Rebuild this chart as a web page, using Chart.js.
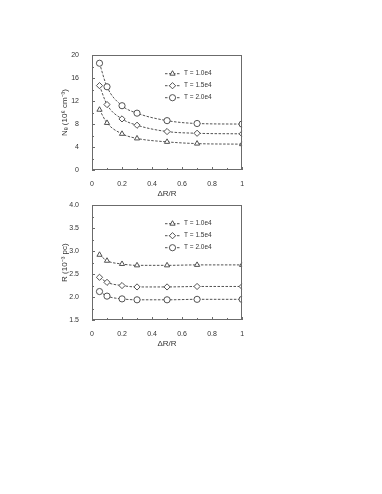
<!DOCTYPE html>
<html>
<head>
<meta charset="utf-8">
<script src="https://cdn.jsdelivr.net/npm/chart.js@4/dist/chart.umd.min.js"></script>
<style>
  body { margin: 0; background: #fff; width: 382px; height: 494px; position: relative; }
  .box { position: absolute; }
  #boxTop { left: 60px; top: 46px; width: 187px; height: 153px; }
  #boxBottom { left: 60px; top: 196px; width: 187px; height: 153px; }
</style>
</head>
<body>
<div class="box" id="boxTop"><canvas id="densityChart"></canvas></div>
<div class="box" id="boxBottom"><canvas id="radiusChart"></canvas></div>
<script>
// x values (ΔR/R)
const shellRatio = [0.05, 0.1, 0.2, 0.3, 0.5, 0.7, 1.0];
const seriesLabels = ['T = 1.0e4', 'T = 1.5e4', 'T = 2.0e4'];

// electron density, 10^6 cm^-3
const densityT10 = [10.5, 8.2, 6.3, 5.5, 4.9, 4.6, 4.5];
const densityT15 = [14.7, 11.4, 8.9, 7.8, 6.7, 6.4, 6.3];
const densityT20 = [18.6, 14.5, 11.2, 9.9, 8.6, 8.1, 8.0];

// radius, 10^-3 pc
const radiusT10 = [2.92, 2.79, 2.72, 2.69, 2.69, 2.70, 2.70];
const radiusT15 = [2.43, 2.32, 2.25, 2.22, 2.22, 2.23, 2.23];
const radiusT20 = [2.12, 2.02, 1.96, 1.94, 1.94, 1.95, 1.95];

const xTicks = [0, 0.2, 0.4, 0.6, 0.8, 1];
const markers = ['triangle', 'rectRot', 'circle'];
const ink = '#404040';
const axisColor = '#6b6b6b';
const fontFamily = "'Liberation Sans', Arial, sans-serif";

/**
 * Frame, inward tick marks and an in-plot legend (dashed line + marker)
 */
const frameLegendPlugin = {
  id: 'frameLegend',
  afterDraw(chart) {
    const { ctx, chartArea, scales } = chart;
    ctx.save();
    ctx.strokeStyle = axisColor;
    ctx.lineWidth = 1;
    ctx.strokeRect(Math.round(chartArea.left) + 0.5, Math.round(chartArea.top) + 0.5,
      Math.round(chartArea.right - chartArea.left) - 1, Math.round(chartArea.bottom - chartArea.top) - 1);

    // inward ticks: major + minor
    const xs = scales.x;
    const ys = scales.y;
    ctx.beginPath();
    for (let v = 0; v <= 1.0001; v += 0.1) {
      const px = Math.round(xs.getPixelForValue(v)) + 0.5;
      const major = Math.abs(v * 5 - Math.round(v * 5)) < 1e-6;
      ctx.moveTo(px, chartArea.bottom);
      ctx.lineTo(px, chartArea.bottom - (major ? 3 : 2));
    }
    const step = chart.options.scales.y.ticks.stepSize;
    const yMin = chart.options.scales.y.min;
    const yMax = chart.options.scales.y.max;
    for (let v = yMin; v <= yMax + 1e-6; v += step / 2) {
      const py = Math.round(ys.getPixelForValue(v)) + 0.5;
      const major = Math.abs((v - yMin) / step - Math.round((v - yMin) / step)) < 1e-6;
      ctx.moveTo(chartArea.left, py);
      ctx.lineTo(chartArea.left + (major ? 3 : 2), py);
    }
    ctx.stroke();

    const x0 = chartArea.left + 73;
    let y = chartArea.top + 18.5;
    chart.data.datasets.forEach((ds) => {
      ctx.strokeStyle = ink;
      ctx.lineWidth = 0.9;
      ctx.setLineDash([2.5, 1.5]);
      ctx.beginPath();
      ctx.moveTo(x0, y);
      ctx.lineTo(x0 + 15, y);
      ctx.stroke();
      ctx.setLineDash([]);
      ctx.fillStyle = '#ffffff';
      ctx.strokeStyle = ink;
      Chart.helpers.drawPoint(ctx, {
        pointStyle: ds.pointStyle,
        radius: ds.pointRadius,
        borderWidth: 0.9,
        rotation: 0,
      }, x0 + 7.5, y);
      ctx.fillStyle = '#333';
      ctx.font = '6.5px ' + fontFamily;
      ctx.textBaseline = 'middle';
      ctx.fillText(ds.label, x0 + 19, y);
      y += 12;
    });
    ctx.restore();
  },
};

function makeDatasets(seriesList) {
  return seriesList.map((values, i) => ({
    label: seriesLabels[i],
    data: values.map((v, k) => ({ x: shellRatio[k], y: v })),
    borderColor: ink,
    borderWidth: 0.9,
    borderDash: [2.5, 1.5],
    pointStyle: markers[i],
    pointRadius: i === 0 ? 3 : 3.1,
    pointBorderWidth: 0.9,
    pointBackgroundColor: '#ffffff',
    pointBorderColor: ink,
    cubicInterpolationMode: 'monotone',
    fill: false,
  }));
}

function makeChart(canvasId, seriesList, yMin, yMax, yStep, yTitle, yDigits) {
  const ctx = document.getElementById(canvasId).getContext('2d');
  return new Chart(ctx, {
    type: 'line',
    data: { datasets: makeDatasets(seriesList) },
    options: {
      responsive: true,
      maintainAspectRatio: false,
      animation: false,
      layout: { padding: { top: 9, right: 0, left: 0, bottom: 0 } },
      plugins: { legend: { display: false }, tooltip: { enabled: false } },
      scales: {
        x: {
          type: 'linear',
          min: 0,
          max: 1,
          afterBuildTicks: (scale) => { scale.ticks = xTicks.map((v) => ({ value: v })); },
          grid: { display: false },
          border: { display: false },
          ticks: {
            color: '#333',
            font: { size: 7, family: fontFamily },
            padding: 2,
            maxRotation: 0,
            callback: (v) => String(Number(v.toFixed(1))),
          },
          title: {
            display: true,
            text: 'ΔR/R',
            color: '#333',
            font: { size: 8, family: fontFamily },
            padding: { top: -1, bottom: 0 },
          },
        },
        y: {
          min: yMin,
          max: yMax,
          afterFit: (scale) => { scale.width = 32; },
          grid: { display: false },
          border: { display: false },
          ticks: {
            stepSize: yStep,
            color: '#333',
            font: { size: 7, family: fontFamily },
            padding: 5,
            callback: (v) => v.toFixed(yDigits),
          },
          title: {
            display: true,
            text: yTitle,
            color: '#333',
            font: { size: 8, family: fontFamily },
            padding: { top: 0, bottom: 0 },
          },
        },
      },
    },
    plugins: [frameLegendPlugin],
  });
}

makeChart('densityChart', [densityT10, densityT15, densityT20], 0, 20, 4, 'Nₑ (10⁶ cm⁻³)', 0);
makeChart('radiusChart', [radiusT10, radiusT15, radiusT20], 1.5, 4.0, 0.5, 'R (10⁻³ pc)', 1);
</script>
</body>
</html>
